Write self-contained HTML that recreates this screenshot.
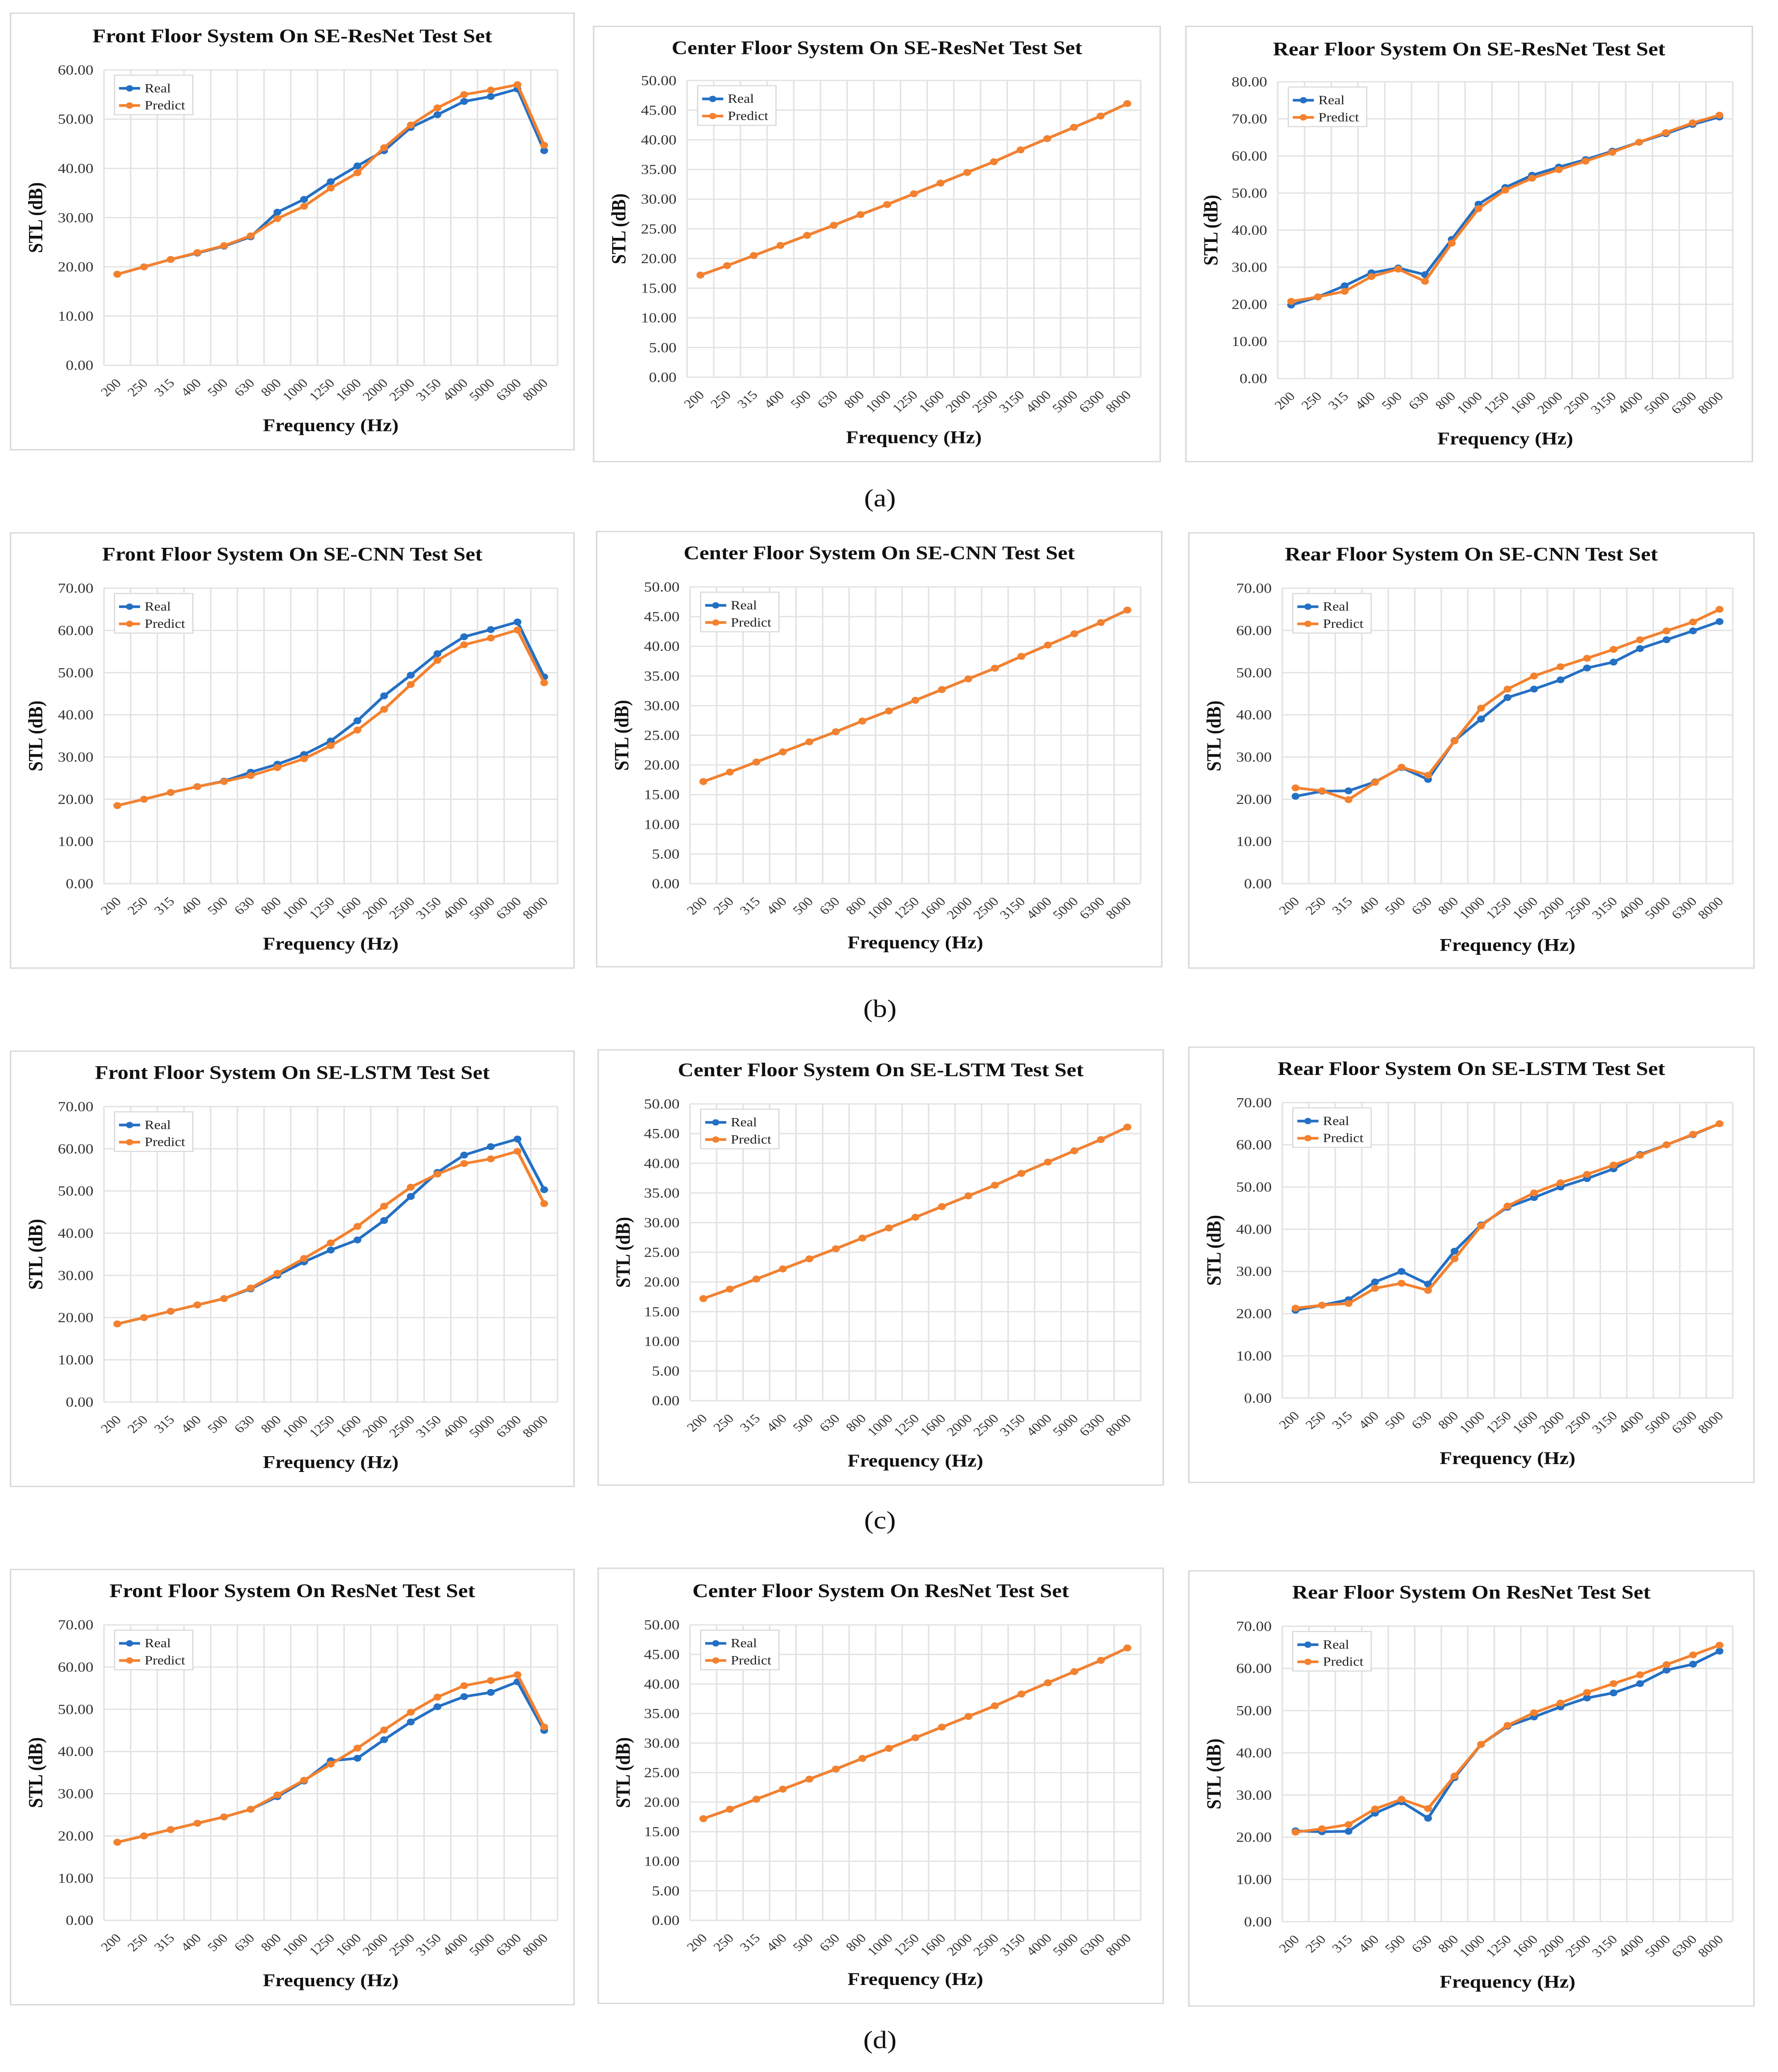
<!DOCTYPE html>
<html><head><meta charset="utf-8">
<style>
html,body{margin:0;padding:0;background:#fff;overflow:hidden;width:100vw;height:100vh;}
svg{display:block;width:100vw;height:100vh;}
text{font-family:"Liberation Serif",serif;}
</style></head>
<body>
<svg id="fig" viewBox="0 0 1180 1571" preserveAspectRatio="none" xmlns="http://www.w3.org/2000/svg"></svg>
<script>
const categories = ["200","250","315","400","500","630","800","1000","1250","1600","2000","2500","3150","4000","5000","6300","8000"];
const centerLinear = [17.2,18.8,20.5,22.2,23.9,25.6,27.4,29.1,30.9,32.7,34.5,36.3,38.3,40.2,42.1,44.0,46.1];
const p1Real = [18.5,20,21.5,22.8,24.2,26.1,31.1,33.7,37.3,40.5,43.6,48.3,50.9,53.6,54.6,56.1,43.6];
const p1Pred = [18.5,20,21.5,22.9,24.3,26.3,29.8,32.3,36,39.1,44.2,48.8,52.3,55,55.9,57,44.7];
const p3Real = [19.8,22,25,28.5,29.8,28,37.5,47,51.5,54.8,57,59,61.3,63.7,66,68.5,70.5];
const p3Pred = [20.8,22,23.5,27.5,29.5,26.2,36.5,45.8,50.8,54,56.3,58.6,61,63.7,66.3,68.9,71];
const p4Real = [18.5,20,21.6,23,24.3,26.4,28.3,30.6,33.8,38.6,44.5,49.4,54.5,58.5,60.2,62,49];
const p4Pred = [18.5,20,21.6,23,24.2,25.6,27.5,29.6,32.7,36.4,41.3,47.2,52.9,56.6,58.2,60.1,47.6];
const p6Real = [20.7,21.9,22,24.1,27.5,24.7,33.9,39,44.1,46.1,48.3,51.1,52.5,55.7,57.8,59.9,62.1];
const p6Pred = [22.7,22,19.9,24,27.6,25.7,33.8,41.6,46.1,49.2,51.4,53.4,55.5,57.8,59.9,62,65];
const p7Real = [18.5,20,21.5,23,24.5,26.8,30,33.2,36,38.4,43,48.7,54.4,58.5,60.5,62.3,50.3];
const p7Pred = [18.5,20,21.5,23,24.5,27,30.5,34,37.7,41.6,46.4,50.9,54,56.5,57.6,59.4,47];
const p9Real = [20.8,22,23.3,27.5,30,27,34.8,41,45.2,47.5,50,52,54.3,57.7,60,62.4,65];
const p9Pred = [21.3,22,22.4,26,27.2,25.5,33,40.8,45.5,48.6,51,53,55.2,57.5,60,62.5,65];
const p10Real = [18.5,20,21.5,23,24.5,26.3,29.3,33,37.8,38.4,42.8,47,50.6,53,54,56.5,45];
const p10Pred = [18.5,20,21.5,23,24.5,26.3,29.7,33.2,37,40.8,45.1,49.3,52.9,55.6,56.8,58.2,45.8];
const p12Real = [21.5,21.3,21.4,25.7,28.4,24.5,34.1,42,46.3,48.5,50.9,53,54.2,56.4,59.6,61,64.1];
const p12Pred = [21.2,22,23,26.7,29,26.8,34.5,42,46.5,49.5,51.8,54.3,56.4,58.5,60.9,63.2,65.5];

const NS="http://www.w3.org/2000/svg";
const svg=document.getElementById('fig');
function mk(tag,attrs,parent){const e=document.createElementNS(NS,tag);for(const k in attrs)e.setAttribute(k,attrs[k]);(parent||svg).appendChild(e);return e;}

const panels=[
 {title:"Front Floor System On SE-ResNet Test Set",box:[7,10,374,331],pl:[69,370,53,277],ymax:60,step:10,ty:27,xy:323,real:p1Real,pred:p1Pred},
 {title:"Center Floor System On SE-ResNet Test Set",box:[394,20,376,330],pl:[456,757,61,286],ymax:50,step:5,ty:36,xy:332,real:centerLinear,pred:centerLinear},
 {title:"Rear Floor System On SE-ResNet Test Set",box:[787,20,376,330],pl:[848,1150,62,287],ymax:80,step:10,ty:37,xy:333,real:p3Real,pred:p3Pred},
 {title:"Front Floor System On SE-CNN Test Set",box:[7,404,374,330],pl:[69,370,446,670],ymax:70,step:10,ty:420,xy:716,real:p4Real,pred:p4Pred},
 {title:"Center Floor System On SE-CNN Test Set",box:[396,403,375,330],pl:[458,757,445,670],ymax:50,step:5,ty:419,xy:715,real:centerLinear,pred:centerLinear},
 {title:"Rear Floor System On SE-CNN Test Set",box:[789,404,375,330],pl:[851,1150,446,670],ymax:70,step:10,ty:420,xy:717,real:p6Real,pred:p6Pred},
 {title:"Front Floor System On SE-LSTM Test Set",box:[7,797,374,330],pl:[69,370,839,1063],ymax:70,step:10,ty:813,xy:1109,real:p7Real,pred:p7Pred},
 {title:"Center Floor System On SE-LSTM Test Set",box:[397,796,375,330],pl:[458,757,837,1062],ymax:50,step:5,ty:811,xy:1108,real:centerLinear,pred:centerLinear},
 {title:"Rear Floor System On SE-LSTM Test Set",box:[789,794,375,330],pl:[851,1150,836,1060],ymax:70,step:10,ty:810,xy:1106,real:p9Real,pred:p9Pred},
 {title:"Front Floor System On ResNet Test Set",box:[7,1190,374,330],pl:[69,370,1232,1456],ymax:70,step:10,ty:1206,xy:1502,real:p10Real,pred:p10Pred},
 {title:"Center Floor System On ResNet Test Set",box:[397,1189,375,330],pl:[458,757,1232,1456],ymax:50,step:5,ty:1206,xy:1501,real:centerLinear,pred:centerLinear},
 {title:"Rear Floor System On ResNet Test Set",box:[789,1191,375,330],pl:[851,1150,1233,1457],ymax:70,step:10,ty:1207,xy:1503,real:p12Real,pred:p12Pred}
];
const BLUE="#2470c4", ORANGE="#f4812e";

panels.forEach((p,i)=>{
  const g=mk('g',{});
  
  
  const [bx,by,bw,bh]=p.box;
  const r=mk('rect',{x:bx,y:by,width:bw,height:bh,fill:'#fff',stroke:'#d9d9d9','stroke-width':1},g);
  
  
  const [L,R,T,B]=p.pl;
  const n=categories.length, bwid=(R-L)/n;
  const xs=k=>L+bwid*(k+0.5);
  const ys=v=>B-(v/p.ymax)*(B-T);
  const cx=(L+R)/2;
  const t=mk('text',{x:(bx+bx+bw)/2,y:p.ty+5,'text-anchor':'middle','font-size':14.5,'font-weight':'bold',fill:'#111'},g);
  t.textContent=p.title;
  
  
  for(let v=0;v<=p.ymax+1e-6;v+=p.step){
    const y=ys(v);
    const gl=mk('line',{x1:L,x2:R,y1:y,y2:y,stroke:'#e3e3e3','stroke-width':1},g);
    
    
    const tl=mk('text',{x:L-7,y:y+3.5,'text-anchor':'end','font-size':10.5,fill:'#333'},g);
    tl.textContent=v.toFixed(2);
    
    
  }
  for(let k=0;k<=n;k++){
    const x=L+bwid*k;
    const vl=mk('line',{x1:x,x2:x,y1:T,y2:B,stroke:'#e3e3e3','stroke-width':1},g);
    
    
  }
  categories.forEach((c,k)=>{
    const x=xs(k), y=B+14;
    const xl=mk('text',{x:x+3,y:y,'text-anchor':'end','font-size':9.5,fill:'#333',transform:`rotate(-45 ${x+3} ${y})`},g);
    xl.textContent=c;
    
    
  });
  const xt=mk('text',{x:cx,y:p.xy+4,'text-anchor':'middle','font-size':13.5,'font-weight':'bold',fill:'#111'},g);
  xt.textContent="Frequency (Hz)";
  
  
  const yx=bx+21, yy=(T+B)/2;
  const yt=mk('text',{x:yx,y:yy,'text-anchor':'middle','font-size':13.5,'font-weight':'bold',fill:'#111',transform:`rotate(-90 ${yx} ${yy})`},g);
  yt.textContent="STL (dB)";
  
  
  [[p.real,BLUE,'real'],[p.pred,ORANGE,'predict']].forEach(([arr,col,nm])=>{
    const pts=arr.map((v,k)=>xs(k).toFixed(2)+','+ys(v).toFixed(2)).join(' ');
    const pl=mk('polyline',{points:pts,fill:'none',stroke:col,'stroke-width':2,'stroke-linejoin':'round'},g);
    
    
    arr.forEach((v,k)=>{
      const c=mk('circle',{cx:xs(k),cy:ys(v),r:2.6,fill:col},g);
      
      
    });
  });
  const lx=L+7, ly=T+4;
  const lg=mk('g',{},g);
  
  
  mk('rect',{x:lx,y:ly,width:52,height:30,fill:'#fff',stroke:'#d9d9d9','stroke-width':0.8},lg);
  [['Real',BLUE,ly+10],['Predict',ORANGE,ly+23]].forEach(([lab,col,y])=>{
    const e=mk('g',{},lg);
    
    
    mk('line',{x1:lx+3,x2:lx+17,y1:y,y2:y,stroke:col,'stroke-width':2},e);
    mk('circle',{cx:lx+10,cy:y,r:2.4,fill:col},e);
    const tx=mk('text',{x:lx+20,y:y+3,'font-size':9.5,fill:'#222'},e);
    tx.textContent=lab;
  });
});
[["(a)",378],["(b)",765],["(c)",1153],["(d)",1547]].forEach(([s,y])=>{
  const t=mk('text',{x:584,y:y+6,'text-anchor':'middle','font-size':19,fill:'#111'});
  t.textContent=s;
  
  
});
</script>
</body></html>
